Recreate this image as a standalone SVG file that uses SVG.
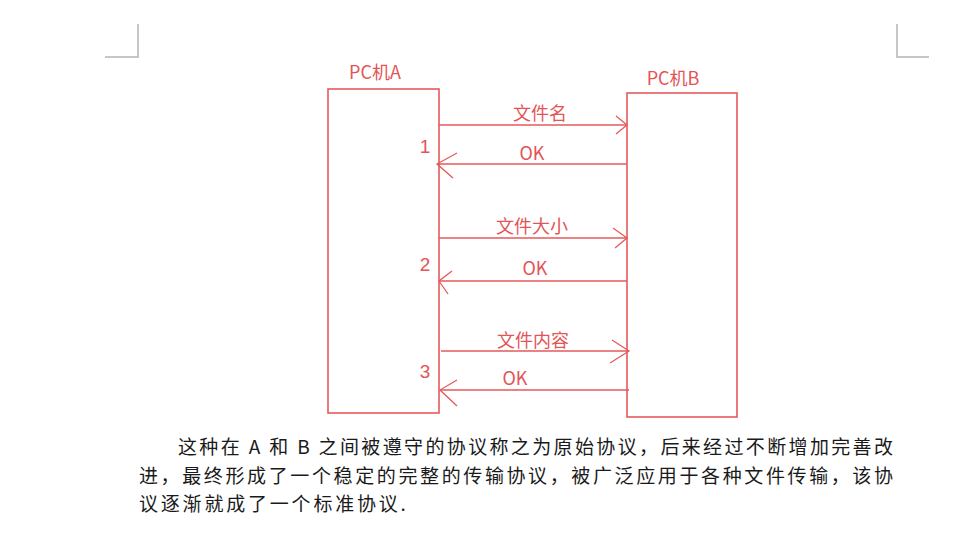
<svg xmlns="http://www.w3.org/2000/svg" width="979" height="543" viewBox="0 0 979 543">
<style>
.box{fill:none;stroke:#e55a5c;stroke-width:1.6}
.ln{fill:none;stroke:#e55a5c;stroke-width:1.5}
.hd{fill:none;stroke:#e55a5c;stroke-width:1.3}
.lbl{font-family:"Noto Sans CJK SC","Noto Sans",sans-serif;font-size:18px;fill:#e35456;text-anchor:middle}
.num{font-family:"Liberation Sans","Noto Sans",sans-serif;font-size:19px;fill:#e35456;text-anchor:middle}
.para{font-family:"Noto Sans CJK SC",sans-serif;font-size:19px;fill:#1a1a1a}
.crop{fill:none;stroke:#b4b4b4;stroke-width:1.5}
</style>
<rect width="979" height="543" fill="#ffffff"/>
<g id="crop-marks">
<path class="crop" d="M138,24 V57 H105"/>
<path class="crop" d="M897,24 V57 H929"/>
</g>
<g id="pcA">
<rect class="box" x="328" y="89" width="111" height="324"/>
<text class="lbl" x="375" y="79">PC机A</text>
</g>
<g id="pcB">
<rect class="box" x="627" y="93" width="110" height="324"/>
<text class="lbl" x="673" y="85">PC机B</text>
</g>
<g id="connectors">
<path class="ln" d="M439,125 H627"/>
<path class="hd" d="M616,116 L627,125 L616,134"/>
<text class="lbl" x="540" y="120">文件名</text>
<path class="ln" d="M627,164 H437"/>
<path class="hd" d="M457,153 L437,164 L453,178"/>
<text class="lbl" x="532" y="160">OK</text>
<path class="ln" d="M439,238 H627"/>
<path class="hd" d="M613,228 L627,238 L615,248"/>
<text class="lbl" x="532" y="233">文件大小</text>
<path class="ln" d="M627,281 H439"/>
<path class="hd" d="M452,271 L439,281 L448,294"/>
<text class="lbl" x="535" y="275">OK</text>
<path class="ln" d="M441,351 H629"/>
<path class="hd" d="M612,340 L629,351 L610,363"/>
<text class="lbl" x="533" y="347">文件内容</text>
<path class="ln" d="M629,390 H440"/>
<path class="hd" d="M457,380 L440,390 L457,406"/>
<text class="lbl" x="515" y="385">OK</text>
</g>
<g id="step-numbers">
<text class="num" x="425" y="153">1</text>
<text class="num" x="425" y="271">2</text>
<text class="num" x="425" y="378">3</text>
</g>
<g id="paragraph">
<text class="para" x="178" y="454" textLength="715" lengthAdjust="spacing">这种在 A 和 B 之间被遵守的协议称之为原始协议，后来经过不断增加完善改</text>
<text class="para" x="139" y="483" textLength="754" lengthAdjust="spacing">进，最终形成了一个稳定的完整的传输协议，被广泛应用于各种文件传输，该协</text>
<text class="para" x="139" y="511" letter-spacing="2.8">议逐渐就成了一个标准协议.</text>
</g>
</svg>
